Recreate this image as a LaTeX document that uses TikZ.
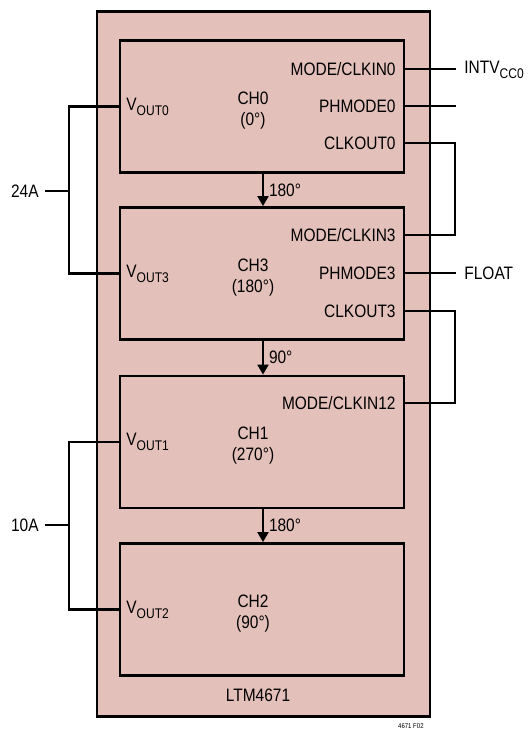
\documentclass[tikz,border=0pt]{standalone}
\usepackage{fontspec}
\setmainfont{Liberation Sans}[FakeStretch=0.86]
\usetikzlibrary{arrows.meta}
\definecolor{chipfill}{RGB}{227,192,186}
\newcommand{\lowidx}[1]{\raisebox{-0.45ex}{\fontsize{14}{14}\selectfont #1}}

\begin{document}
\begin{tikzpicture}[x=1pt,y=-1pt,line width=2.8pt,
    chbox/.style={draw,fill=chipfill,minimum width=284pt,minimum height=132pt,inner sep=0pt},
    pin/.style={inner sep=0pt,font=\fontsize{18}{21}\selectfont},
    phase/.style={line width=2pt,-{Triangle[length=10pt,width=11pt]}}]
\useasboundingbox (0,0) rectangle (530,730);
\node[draw,fill=chipfill,minimum width=333pt,minimum height=705pt,inner sep=0pt] (chip) at (263.5,364) {};
\node[chbox] (ch0) at (262,106.5) {};
\node[chbox] (ch3) at (262,273.5) {};
\node[chbox] (ch1) at (262,442) {};
\node[chbox] (ch2) at (262,609.5) {};

\node[pin,align=center] (n0) at (253,111) {CH0\\(0°)};
\node[pin,align=center] (n3) at (253,278) {CH3\\(180°)};
\node[pin,align=center] (n1) at (253,446) {CH1\\(270°)};
\node[pin,align=center] (n2) at (253,614) {CH2\\(90°)};
\node[pin] (ltm) at (258,695) {LTM4671};

\node[pin,anchor=west] (vout0) at (125,107) {V\lowidx{OUT0}};
\node[pin,anchor=west] (vout3) at (125,274) {V\lowidx{OUT3}};
\node[pin,anchor=west] (vout1) at (125,442) {V\lowidx{OUT1}};
\node[pin,anchor=west] (vout2) at (125,610) {V\lowidx{OUT2}};

\node[pin,anchor=east] (mode0) at (397,69) {MODE/CLKIN0};
\node[pin,anchor=east] (ph0) at (397,106) {PHMODE0};
\node[pin,anchor=east] (clk0) at (397,143) {CLKOUT0};
\node[pin,anchor=east] (mode3) at (397,235) {MODE/CLKIN3};
\node[pin,anchor=east] (ph3) at (397,273) {PHMODE3};
\node[pin,anchor=east] (clk3) at (397,311) {CLKOUT3};
\node[pin,anchor=east] (mode12) at (397,403) {MODE/CLKIN12};

\coordinate (intvend) at (456,69);
\coordinate (phend) at (456,106);
\coordinate (floatend) at (456,273);
\node[pin,anchor=west] (intv) at (463,70) {INTV\lowidx{CC0}};
\node[pin,anchor=west] (float) at (463,273) {FLOAT};
\node[pin,anchor=east] (amp24) at (40,191) {24A};
\node[pin,anchor=east] (amp10) at (40,525) {10A};
\node[inner sep=0pt,anchor=south east,font=\fontsize{7}{7}\selectfont] (fig) at (425,729.5) {4671 F02};

\draw (ch0.east |- mode0) -- (intvend);
\draw (ch0.east |- ph0) -- (phend);
\draw (ch0.east |- clk0) -- (455,143) -- (455,235) -- (ch3.east |- mode3);
\draw (ch3.east |- ph3) -- (floatend);
\draw (ch3.east |- clk3) -- (455,311) -- (455,403) -- (ch1.east |- mode12);

\draw (ch0.west) -- (69,106.5) -- (69,273.5) -- (ch3.west);
\draw (amp24.east) ++(5,0) -- (69,191);
\draw (ch1.west) -- (69,442) -- (69,609.5) -- (ch2.west);
\draw (amp10.east) ++(5,0) -- (69,525);

\draw[phase] (ch0.south -| 263,0) -- (ch3.north -| 263,0) node[midway,right=5pt,pin] {180°};
\draw[phase] (ch3.south -| 263,0) -- (ch1.north -| 263,0) node[midway,right=5pt,pin] {90°};
\draw[phase] (ch1.south -| 263,0) -- (ch2.north -| 263,0) node[midway,right=5pt,pin] {180°};
\end{tikzpicture}
\end{document}
